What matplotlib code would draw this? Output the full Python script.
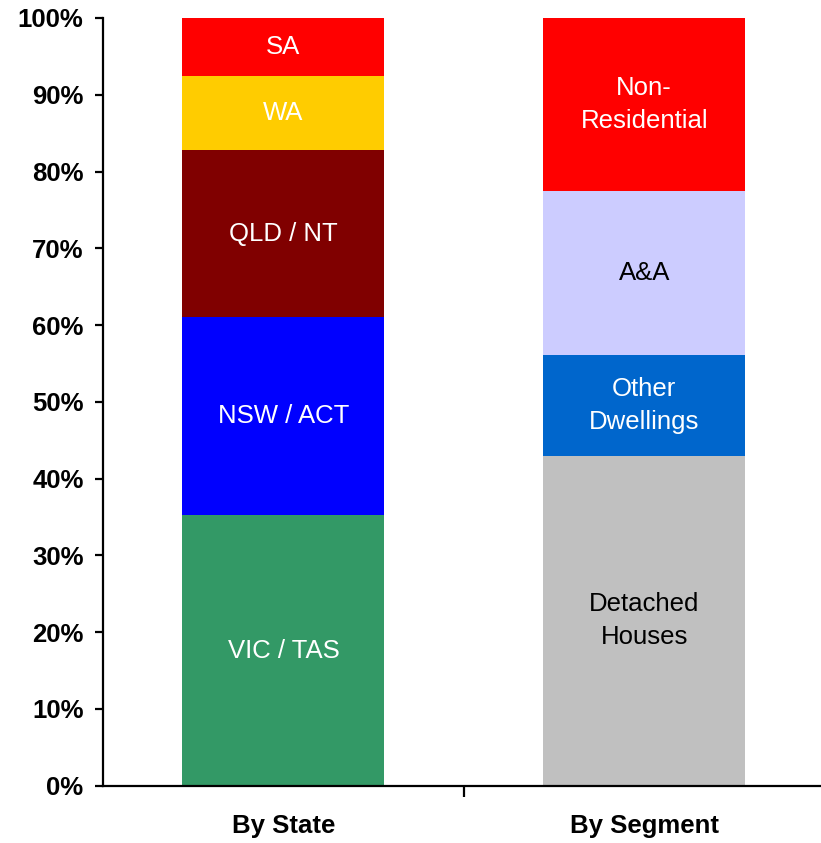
import matplotlib
matplotlib.use("Agg")
import matplotlib.pyplot as plt
from matplotlib.ticker import FuncFormatter, FixedLocator

plt.rcParams['font.family'] = ['Liberation Sans', 'DejaVu Sans']

categories = ["By State", "By Segment"]

state_labels = ["VIC / TAS", "NSW / ACT", "QLD / NT", "WA", "SA"]
state_values = [35.2, 25.8, 21.8, 9.65, 7.55]
state_colors = ["#339966", "#0000FF", "#800000", "#FFCC00", "#FF0000"]
state_text = ["white", "white", "white", "white", "white"]

segment_labels = ["Detached\nHouses", "Other\nDwellings", "A&A", "Non-\nResidential"]
segment_values = [43.0, 13.1, 21.4, 22.5]
segment_colors = ["#C0C0C0", "#0066CC", "#CCCCFF", "#FF0000"]
segment_text = ["black", "white", "black", "white"]

fig = plt.figure(figsize=(8.21, 8.43), dpi=100)
ax = fig.add_axes([103 / 821, 57.3 / 843, 718 / 821, 767.7 / 843])

bar_width = 0.56

def draw_stack(xpos, values, colors, labels, tcolors):
    bottom = 0
    for v, c, lab, tc in zip(values, colors, labels, tcolors):
        ax.bar(xpos, v, bottom=bottom, width=bar_width, color=c, edgecolor='none')
        ax.text(xpos, bottom + v / 2, lab, ha='center', va='center', color=tc,
                fontsize=18.5, linespacing=1.45)
        bottom += v

draw_stack(0, state_values, state_colors, state_labels, state_text)
draw_stack(1, segment_values, segment_colors, segment_labels, segment_text)

ax.set_xlim(-0.5, 1.49)
ax.set_ylim(0, 100)

ax.spines['top'].set_visible(False)
ax.spines['right'].set_visible(False)
ax.spines['left'].set_linewidth(1.6)
ax.spines['bottom'].set_linewidth(1.6)

ax.yaxis.set_major_locator(FixedLocator(range(0, 101, 10)))
ax.yaxis.set_major_formatter(FuncFormatter(lambda v, p: f"{int(v)}%"))
ax.tick_params(axis='y', direction='out', length=6, width=1.6, labelsize=18.5, pad=8)
for lab in ax.get_yticklabels():
    lab.set_fontweight('bold')

# category boundary tick
ax.xaxis.set_major_locator(FixedLocator([0.5]))
ax.xaxis.set_major_formatter(FuncFormatter(lambda v, p: ""))
ax.tick_params(axis='x', direction='out', length=8, width=1.6)
for i, cat in enumerate(categories):
    ax.annotate(cat, xy=(i, 0), xycoords=('data', 'axes fraction'),
                xytext=(0, -29), textcoords='offset points',
                ha='center', va='center', fontsize=18.5, fontweight='bold')

fig.savefig("out.png", dpi=100)
